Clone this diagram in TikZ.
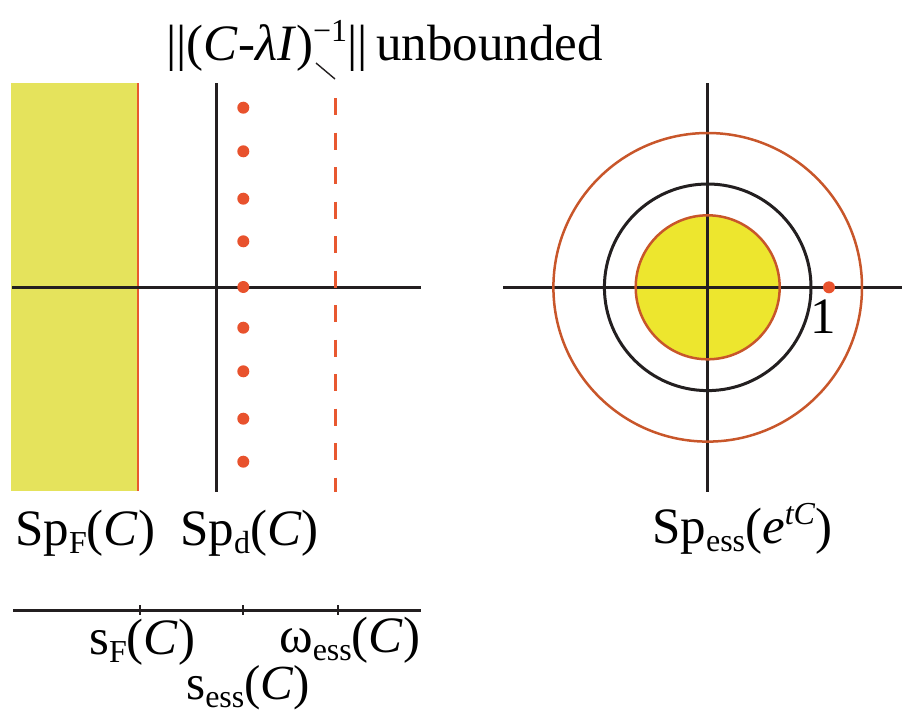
\documentclass[tikz,border=0pt]{standalone}
\usepackage{fontspec}
\setmainfont{Liberation Serif}
\definecolor{axis}{RGB}{35,31,32}
\definecolor{halfplane}{RGB}{229,227,92}
\definecolor{disk}{RGB}{237,230,46}
\definecolor{ring}{RGB}{200,86,42}
\definecolor{edge}{RGB}{232,88,48}
\definecolor{pt}{RGB}{232,82,45}
\newcommand{\lo}[1]{\raisebox{-8pt}{\fontsize{32}{32}\selectfont #1}}
\newcommand{\hi}[1]{\raisebox{19pt}{\fontsize{32}{32}\selectfont #1}}
\tikzset{
  ax/.style={draw=axis, line width=3pt},
  lbl/.style={inner sep=0pt, anchor=base west, font=\fontsize{51}{60}\selectfont},
  dot/.style={circle, fill=pt, inner sep=0pt, minimum size=12pt},
  tick/.style={draw=axis, line width=2.2pt},
}
\begin{document}
\begin{tikzpicture}[x=1pt,y=-1pt]
\useasboundingbox (0,0) rectangle (902,713);
% ---------- left panel ----------
\fill[halfplane] (11,83) rectangle (138,491);
\draw[edge, line width=2.8pt] (138,83) -- (138,491);
\draw[ax] (12,287) -- (421,287);
\draw[ax] (216.5,83) -- (216.5,492);
\draw[edge, line width=2.8pt, dash pattern=on 17pt off 17.5pt] (335.3,98) -- (335.3,492);
\foreach \i/\yy in {1/107.7,2/151.3,3/198.7,4/241.3,5/287,6/327.7,7/371.3,8/418.7,9/461.7}
  \node[dot] (d\i) at (243.3,\yy) {};
\node[lbl] (norm) at (166,60) {||(\textit{C}-\textit{λI})\hi{−1}||\,unbounded};
\coordinate (lead1) at (316,63);
\coordinate (lead2) at (335,79);
\draw[axis, line width=1.4pt] (lead1) -- (lead2);
\node[lbl] (spf) at (15,545) {Sp\lo{F}(\textit{C})};
\node[lbl] (spd) at (180,545) {Sp\lo{d}(\textit{C})};
% bottom scale
\draw[ax] (13,610) -- (421,610);
\foreach \n/\xx in {a/140,b/243.3,c/338.3}
  \draw[tick] (\xx,605) -- (\xx,615);
\node[lbl] (sf) at (89,654) {s\lo{F}(\textit{C})};
\node[lbl] (wess) at (279,652) {ω\lo{ess}(\textit{C})};
\node[lbl, font=\fontsize{49}{56}\selectfont] (sess) at (186,699) {s\lo{ess}(\textit{C})};
% ---------- right panel ----------
\coordinate (O) at (707.7,287.3);
\fill[disk] (O) circle[radius=72];
\draw[ax] (503,287.3) -- (902,287.3);
\draw[ax] (707.7,83) -- (707.7,492);
\draw[ring, line width=2.5pt] (O) circle[radius=72];
\draw[axis, line width=3pt] (O) circle[radius=103.3];
\draw[ring, line width=2.5pt] (O) circle[radius=154.3];
\node[dot] (one) at (829,287.3) {};
\node[lbl, anchor=base] (onel) at (823,333) {1};
\node[lbl] (spess) at (652,543) {Sp\lo{ess}(\textit{e}\hi{\textit{tC}})};
\end{tikzpicture}
\end{document}
